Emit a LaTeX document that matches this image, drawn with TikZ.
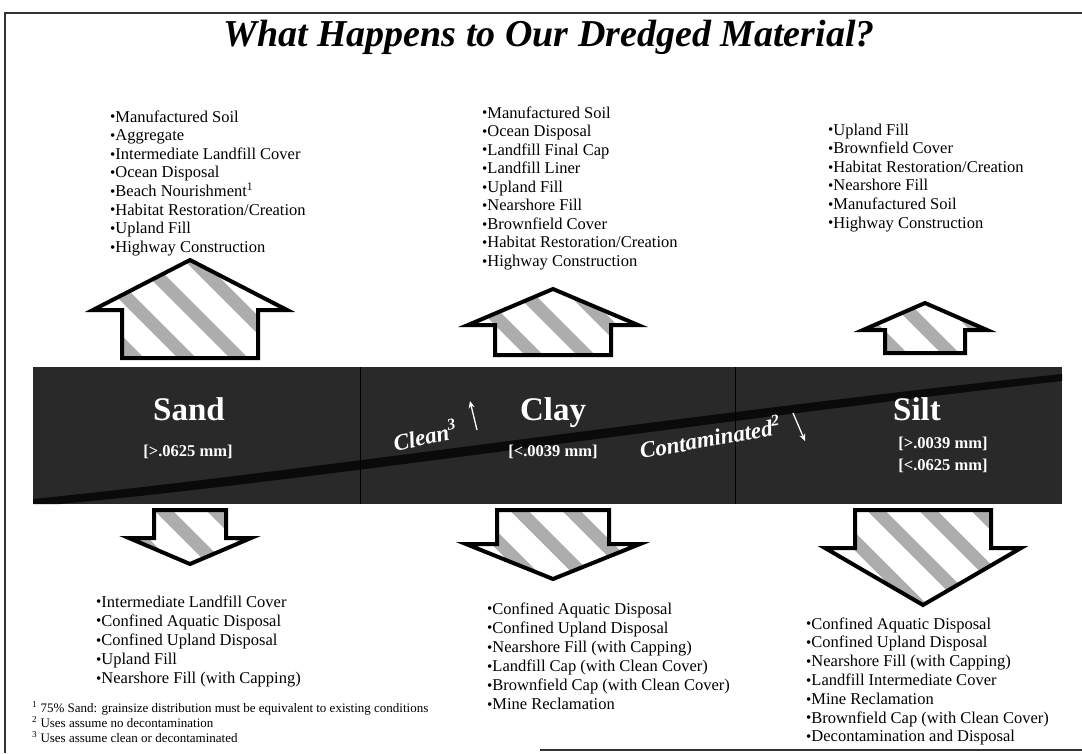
\documentclass[tikz,border=0pt]{standalone}
\usepackage{fontspec}
\setmainfont{Liberation Serif}
\usetikzlibrary{arrows.meta}
\newcommand\blockarrow[7]{%
  % #1 cx, #2 tip y, #3 head-base y, #4 half head width, #5 half shaft width, #6 tail y, #7 name
  \coordinate (#7) at (#1,#6);
  \begin{scope}
    \clip ({#1-#5},#6) -- ({#1-#5},#3) -- ({#1-#4},#3) -- (#1,#2) -- ({#1+#4},#3) -- ({#1+#5},#3) -- ({#1+#5},#6) -- cycle;
    \fill[white] ({#1-#4-5},{min(#2,#6)-5}) rectangle ({#1+#4+5},{max(#2,#6)+5});
    \foreach \k in {-6,...,6}
      \draw[stripe] ({#1+\k*52-130},{(#2+#6)/2-130}) -- ++(260,260);
  \end{scope}
  \draw[arrowline] ({#1-#5},#6) -- ({#1-#5},#3) -- ({#1-#4},#3) -- (#1,#2) -- ({#1+#4},#3) -- ({#1+#5},#3) -- ({#1+#5},#6) -- cycle;
}
\newcommand\bul{{\fontsize{15}{15}\selectfont\raisebox{0.2pt}{•}}}
\begin{document}
\begin{tikzpicture}[x=1pt,y=-1pt,
  stripe/.style={draw=black!32,line width=13pt},
  arrowline/.style={draw=black,line width=4pt,line join=miter},
  listtxt/.style={anchor=base west,inner sep=0pt,font=\fontsize{16.5}{18}\selectfont},
  bandhead/.style={text=white,font=\fontsize{33}{33}\selectfont\bfseries,inner sep=0pt,anchor=base},
  bandsub/.style={text=white,font=\fontsize{16.5}{17}\selectfont\bfseries,inner sep=0pt,anchor=base},
  bandlab/.style={text=white,font=\fontsize{23}{23}\selectfont\bfseries\itshape,inner sep=0pt},
  smallarrow/.style={draw=white,line width=1.3pt,-{Stealth[length=7pt,width=6pt]}},
  foot/.style={anchor=base west,inner sep=0pt,font=\fontsize{13}{14}\selectfont},
  frame/.style={draw=black!80,line width=1.2pt}
]
\useasboundingbox (0,0) rectangle (1082,753);
\fill[white] (0,0) rectangle (1082,753);
% frame
\coordinate (ftl) at (5,13);
\coordinate (ftr) at (1082,13);
\coordinate (fbl) at (5,753);
\coordinate (fb1) at (540,750);
\coordinate (fb2) at (1082,750);
\draw[frame] (fbl) -- (ftl) -- (ftr);
\draw[frame] (fb1) -- (fb2);
% title
\node[inner sep=0pt] (title) at (549,37) {\fontsize{38}{38}\selectfont\bfseries\itshape What Happens to Our Dredged Material?};
% band
\coordinate (bandnw) at (33,367);
\coordinate (bandse) at (1062,504);
\fill[black!84] (bandnw) rectangle (bandse);
\fill[black!96] (33,504) -- (33,499) .. controls (300,472) and (700,412) .. (1062,374) -- (1062,381) .. controls (700,422) and (300,482) .. (60,504) -- cycle;
\draw[black,line width=1pt] (360,367) -- (360,504);
\draw[black,line width=1pt] (735,367) -- (735,504);
% band texts
\node[bandhead] (sand) at (189,420) {Sand};
\node[bandsub] (sandr) at (188,456) {[>.0625 mm]};
\node[bandhead] (clay) at (553,420) {Clay};
\node[bandsub] (clayr) at (553,456) {[<.0039 mm]};
\node[bandhead] (silt) at (917,420) {Silt};
\node[bandsub] (siltr1) at (943,448) {[>.0039 mm]};
\node[bandsub] (siltr2) at (943,470) {[<.0625 mm]};
\node[bandlab,rotate=12] (clean) at (425,435) {Clean\textsuperscript{3}};
\coordinate (cleanA) at (477,430);
\coordinate (cleanB) at (470,401);
\draw[smallarrow] (cleanA) -- (cleanB);
\node[bandlab,rotate=10] (contam) at (710,437) {Contaminated\textsuperscript{2}};
\coordinate (contA) at (793,413);
\coordinate (contB) at (805,441);
\draw[smallarrow] (contA) -- (contB);
% up arrows
\blockarrow{190}{260}{310}{97}{68}{358}{sandup}
\blockarrow{553}{289}{325}{85}{58}{355}{clayup}
\blockarrow{925}{303}{330}{62}{40}{353}{siltup}
% down arrows
\blockarrow{190}{564}{538}{61}{36}{510}{sanddown}
\blockarrow{553}{579}{544}{87}{56}{510}{claydown}
\blockarrow{923}{605}{548}{98}{68}{510}{siltdown}
% top lists
\foreach \t [count=\i from 0] in {Manufactured Soil,Aggregate,Intermediate Landfill Cover,Ocean Disposal,Beach Nourishment\textsuperscript{1},Habitat Restoration/Creation,Upland Fill,Highway Construction}
  \node[listtxt] (sandtop\i) at (110,{122+\i*18.6}) {\bul\t};
\foreach \t [count=\i from 0] in {Manufactured Soil,Ocean Disposal,Landfill Final Cap,Landfill Liner,Upland Fill,Nearshore Fill,Brownfield Cover,Habitat Restoration/Creation,Highway Construction}
  \node[listtxt] (claytop\i) at (482,{118+\i*18.55}) {\bul\t};
\foreach \t [count=\i from 0] in {Upland Fill,Brownfield Cover,Habitat Restoration/Creation,Nearshore Fill,Manufactured Soil,Highway Construction}
  \node[listtxt] (silttop\i) at (828,{135+\i*18.6}) {\bul\t};
% bottom lists
\foreach \t [count=\i from 0] in {Intermediate Landfill Cover,Confined Aquatic Disposal,Confined Upland Disposal,Upland Fill,Nearshore Fill (with Capping)}
  \node[listtxt] (sandbot\i) at (96,{607+\i*19.1}) {\bul\t};
\foreach \t [count=\i from 0] in {Confined Aquatic Disposal,Confined Upland Disposal,Nearshore Fill (with Capping),Landfill Cap (with Clean Cover),Brownfield Cap (with Clean Cover),Mine Reclamation}
  \node[listtxt] (claybot\i) at (487,{614+\i*19.1}) {\bul\t};
\foreach \t [count=\i from 0] in {Confined Aquatic Disposal,Confined Upland Disposal,Nearshore Fill (with Capping),Landfill Intermediate Cover,Mine Reclamation,Brownfield Cap (with Clean Cover),Decontamination and Disposal}
  \node[listtxt] (siltbot\i) at (806,{629+\i*18.8}) {\bul\t};
% footnotes
\node[foot] (fn1) at (32,712) {\textsuperscript{1} 75\% Sand: grainsize distribution must be equivalent to existing conditions};
\node[foot] (fn2) at (32,727) {\textsuperscript{2} Uses assume no decontamination};
\node[foot] (fn3) at (32,742) {\textsuperscript{3} Uses assume clean or decontaminated};
\end{tikzpicture}
\end{document}
